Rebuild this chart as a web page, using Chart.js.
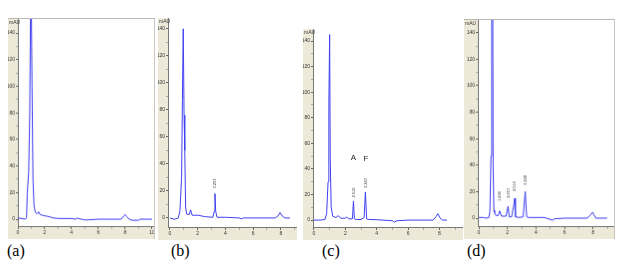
<!DOCTYPE html>
<html>
<head>
<meta charset="utf-8">
<script src="https://cdn.jsdelivr.net/npm/chart.js@4"></script>
<style>
  body { margin: 0; background: #fff; width: 624px; height: 267px; position: relative; overflow: hidden; }
  canvas { position: absolute; background: #ece9d8; }
  .framed { border-top: 1px solid #b8b8b0; border-right: 1px solid #c8c8c0; }
  .lbl { position: absolute; font-family: 'Liberation Serif', serif; font-size: 16px; line-height: 16px; color: #000; }
</style>
</head>
<body>
<canvas id="chA" class="framed" width="147" height="221" style="left:8px;top:18px;"></canvas>
<canvas id="chB" width="139" height="222" style="left:158px;top:18px;"></canvas>
<canvas id="chC" width="160" height="211" style="left:303px;top:29px;"></canvas>
<canvas id="chD" class="framed" width="151" height="220" style="left:464px;top:19px;"></canvas>
<div class="lbl" style="left:7px;top:243px;">(a)</div>
<div class="lbl" style="left:171px;top:243px;">(b)</div>
<div class="lbl" style="left:322px;top:243px;">(c)</div>
<div class="lbl" style="left:467px;top:243px;">(d)</div>
<script>
// retention time (min) and absorbance (mAU)
const aX = [0, 0.3, 0.55, 0.64, 0.7, 0.8, 0.88, 0.95, 0.99, 1.05, 1.12, 1.2, 1.3, 1.45, 1.55, 1.65, 1.8, 2.0, 2.3, 2.6, 3.0, 4.0, 4.3, 4.4, 4.6, 5.0, 5.2, 6.0, 7.0, 7.7, 7.9, 8.0, 8.1, 8.3, 8.5, 9.0, 9.1, 10.0];
const aY = [0.8, 0.5, 0, 1, 20, 35, 78, 170, 170, 100, 30, 10, 5, 4, 5.5, 3.5, 3, 2.5, 2, 1, 0.5, 0.5, 0, 0.8, 0.3, -0.5, -0.5, 0, 0, 0, 2.5, 3.5, 2, 0, -0.8, -0.8, 0, 0];

const bX = [0, 0.3, 0.6, 0.72, 0.84, 0.9, 0.96, 1.02, 1.07, 1.13, 1.2, 1.4, 1.49, 1.6, 1.8, 2.05, 2.5, 3.1, 3.2, 3.25, 3.3, 3.4, 4.0, 5.0, 5.17, 5.3, 6.0, 7.0, 7.6, 7.8, 7.94, 8.1, 8.3, 8.66];
const bY = [0, -1, 0, 5, 30, 87, 140, 76, 50, 8, 3, 2.5, 6, 2, 2, 2, 1, 0.5, 5, 18, 5, 0.5, 0.5, 0, -0.7, 0, 0, 0, 0, 1.5, 4, 1.5, 0, 0];

const cX = [0, 0.4, 0.7, 0.81, 0.9, 0.95, 1.0, 1.04, 1.1, 1.2, 1.4, 1.55, 1.7, 2.0, 2.09, 2.2, 2.45, 2.52, 2.58, 2.7, 3.0, 3.2, 3.28, 3.36, 3.5, 4.0, 5.0, 5.13, 5.3, 6.0, 7.0, 7.6, 7.8, 7.9, 8.05, 8.2, 8.48];
const cY = [0, 0, 0.5, 5, 30, 89, 145, 47, 10, 3, 2, 3.5, 1.5, 1.5, 2.5, 1, 1, 15, 1, 0.5, 0.5, 2, 22, 1, 0.5, 0.3, -0.5, -1.5, -0.5, 0, 0, 0, 3, 5, 1.5, 0, 0];

const dX = [0, 0.3, 0.5, 0.7, 0.77, 0.85, 0.9, 0.97, 1.0, 1.05, 1.1, 1.2, 1.35, 1.46, 1.58, 1.9, 2.05, 2.12, 2.3, 2.45, 2.51, 2.56, 2.8, 3.1, 3.25, 3.35, 3.5, 4.6, 4.72, 5.18, 5.3, 6.0, 7.6, 7.8, 7.97, 8.2, 9.0];
const dY = [0.5, 0.5, 0, 0.5, 5, 47, 170, 170, 40, 6, 4, 2, 2, 5.5, 1.5, 1.5, 9, 1, 1, 10, 15, 1, 0.5, 1, 20, 1, 0.5, 0.5, 0, -1.5, -0.5, 0, 0, 2, 4.5, 0, 0];

const yTicks = [0, 20, 40, 60, 80, 100, 120, 140];
const yMinorTicks = [10, 30, 50, 70, 90, 110, 130];
const xTicksA = [0, 2, 4, 6, 8, 10];
const xTicks = [0, 2, 4, 6, 8];
const xMinorTicks = [1, 3, 5, 7, 9];
const unitLabel = 'mAU';

// retention time labels printed above integrated peaks: [x, y, text]
const bPeaks = [[3.25, 25.5, '3.253']];
const cPeaks = [[2.52, 21.5, '2.516'], [3.28, 29, '3.247']];
const dPeaks = [[1.46, 16.5, '1.496'], [2.05, 19, '2.057'], [2.51, 24, '2.516'], [3.25, 28.6, '3.248']];
const cLetters = [[2.52, 49, 'A'], [3.32, 48, 'F']];

const traceColor = '#3f3ff2';

const panelPlugin = {
    id: 'panel',
    beforeDraw(chart) {
        const a = chart.chartArea;
        const ctx = chart.ctx;
        ctx.save();
        ctx.fillStyle = '#ffffff';
        ctx.fillRect(a.left, a.top, a.right - a.left, a.bottom - a.top);
        ctx.restore();
    },
    afterDatasetsDraw(chart, args, opts) {
        const ctx = chart.ctx;
        const xs = chart.scales.x, ys = chart.scales.y;
        ctx.save();
        ctx.fillStyle = '#333';
        ctx.font = '5px "Liberation Sans", sans-serif';
        ctx.textAlign = 'left';
        ctx.textBaseline = 'top';
        ctx.fillText(unitLabel, 1, 1);
        (opts.peaks || []).forEach(p => {
            ctx.save();
            ctx.translate(xs.getPixelForValue(p[0]), ys.getPixelForValue(p[1]));
            ctx.rotate(-Math.PI / 2);
            ctx.textAlign = 'center';
            ctx.textBaseline = 'middle';
            ctx.font = '4px "Liberation Sans", sans-serif';
            ctx.fillText(p[2], 0, 0);
            ctx.restore();
        });
        ctx.font = '8px "Liberation Sans", sans-serif';
        ctx.textAlign = 'center';
        ctx.textBaseline = 'middle';
        ctx.fillStyle = '#222';
        (opts.letters || []).forEach(p => {
            ctx.fillText(p[2], xs.getPixelForValue(p[0]), ys.getPixelForValue(p[1]));
        });
        ctx.restore();
    }
};

function makeChart(id, xs, ys, cfg) {
    const ctx = document.getElementById(id);
    if (!ctx) return;
    const points = xs.map((x, i) => ({ x: x, y: ys[i] }));
    const majorX = cfg.xTicks;
    const majorY = yTicks;

    new Chart(ctx, {
        type: 'line',
        data: {
            datasets: [{
                data: points,
                borderColor: traceColor,
                borderWidth: 1,
                pointRadius: 0,
                tension: 0,
                fill: false,
            }]
        },
        options: {
            responsive: false,
            animation: false,
            events: [],
            layout: { padding: 0 },
            plugins: {
                legend: { display: false },
                tooltip: { enabled: false },
                panel: { peaks: cfg.peaks, letters: cfg.letters }
            },
            scales: {
                x: {
                    type: 'linear',
                    min: cfg.xMin,
                    max: cfg.xMax,
                    afterBuildTicks: s => { s.ticks = majorX.concat(xMinorTicks.filter(v => v < cfg.xMax)).map(v => ({ value: v })); },
                    afterFit: s => { s.height = 13; s.paddingLeft = 0; s.paddingRight = 0; },
                    border: { color: '#777', width: 1 },
                    grid: {
                        drawOnChartArea: false,
                        tickLength: 3,
                        tickColor: c => majorX.includes(c.tick.value) ? '#666' : '#aaa',
                    },
                    ticks: {
                        autoSkip: false,
                        maxRotation: 0,
                        padding: 1,
                        color: '#333',
                        font: { size: 5, family: '"Liberation Sans", sans-serif' },
                        callback: v => majorX.includes(v) ? String(v) : '',
                    }
                },
                y: {
                    type: 'linear',
                    min: cfg.yMin,
                    max: cfg.yMax,
                    afterBuildTicks: s => { s.ticks = majorY.concat(yMinorTicks).map(v => ({ value: v })); },
                    afterFit: s => { s.width = cfg.yWidth; s.paddingTop = 0; s.paddingBottom = 0; },
                    border: { color: '#777', width: 1 },
                    grid: {
                        drawOnChartArea: false,
                        tickLength: 2,
                        tickColor: c => majorY.includes(c.tick.value) ? '#666' : '#aaa',
                    },
                    ticks: {
                        autoSkip: false,
                        padding: 1,
                        color: '#333',
                        font: { size: 5, family: '"Liberation Sans", sans-serif' },
                        callback: v => majorY.includes(v) ? String(v) : '',
                    }
                }
            }
        },
        plugins: [panelPlugin]
    });
}

makeChart('chA', aX, aY, { xMin: 0, xMax: 10.15, yMin: -5.2, yMax: 150.5, yWidth: 10, xTicks: xTicksA });
makeChart('chB', bX, bY, { xMin: -0.14, xMax: 9.17, yMin: -6.7, yMax: 148, yWidth: 10, xTicks: xTicks, peaks: bPeaks });
makeChart('chC', cX, cY, { xMin: -0.06, xMax: 9.5, yMin: -5.4, yMax: 149.4, yWidth: 10, xTicks: xTicks, peaks: cPeaks, letters: cLetters });
makeChart('chD', dX, dY, { xMin: -0.07, xMax: 9.48, yMin: -6, yMax: 149.6, yWidth: 14, xTicks: xTicks, peaks: dPeaks });
</script>
</body>
</html>
